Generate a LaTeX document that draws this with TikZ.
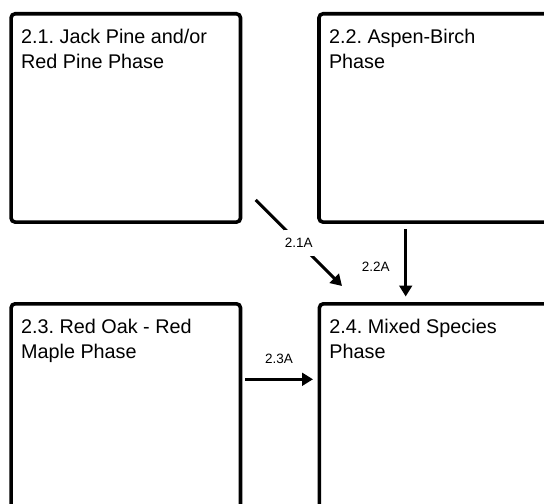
\documentclass[tikz,border=0pt]{standalone}
\usepackage{fontspec}
\setmainfont{Liberation Sans}
\usetikzlibrary{arrows.meta}
\frenchspacing
\begin{document}
\begin{tikzpicture}[x=1bp,y=-1bp,
  box/.style={draw=black, line width=3.6bp, rounded corners=4bp, minimum width=229.4bp, minimum height=208.3bp, inner sep=0pt, anchor=north west},
  boxtext/.style={anchor=base west, align=left, inner sep=0pt, font=\frenchspacing\fontsize{19.8bp}{25.3bp}\selectfont},
  conn/.style={line width=3bp, -{Triangle[length=11bp,width=12.7bp]}},
  lab/.style={font=\fontsize{13.5bp}{16bp}\selectfont, inner sep=0pt}
]
\useasboundingbox (0,0) rectangle (544,504);
\clip (0,0) rectangle (544,504);
% boxes
\node[box] (b21) at (9.3,12) {};
\node[box] (b22) at (317.2,12) {};
\node[box] (b23) at (9.3,302) {};
\node[box] (b24) at (317.6,302) {};
% texts (anchor is the baseline of the last line)
\node[boxtext] (t21) at ([xshift=11.6bp,yshift=-56.6bp]b21.north west) {2.1. Jack Pine and/or\\Red Pine Phase};
\node[boxtext] (t22) at ([xshift=11.6bp,yshift=-56.6bp]b22.north west) {2.2. Aspen-Birch\\Phase};
\node[boxtext] (t23) at ([xshift=11.6bp,yshift=-56.6bp]b23.north west) {2.3. Red Oak - Red\\Maple Phase};
\node[boxtext] (t24) at ([xshift=11.6bp,yshift=-56.6bp]b24.north west) {2.4. Mixed Species\\Phase};
% connector end points
\coordinate (a1s) at (255.7,200);
\coordinate (a1e) at (342,286);
\coordinate (a2s) at (405.7,229);
\coordinate (a2e) at (405.7,296.5);
\coordinate (a3s) at (245,379.3);
\coordinate (a3e) at (313,379.3);
% connectors
\draw[conn] (a1s) -- node[lab, fill=white, minimum height=25.6bp, minimum width=30bp] (l1) {2.1A} (a1e);
\draw[conn] (a2s) -- node[lab, pos=0.56, anchor=east, xshift=-14.5bp] (l2) {2.2A} (a2e);
\draw[conn] (a3s) -- node[lab, midway, anchor=south, yshift=14bp] (l3) {2.3A} (a3e);
\end{tikzpicture}
\end{document}
